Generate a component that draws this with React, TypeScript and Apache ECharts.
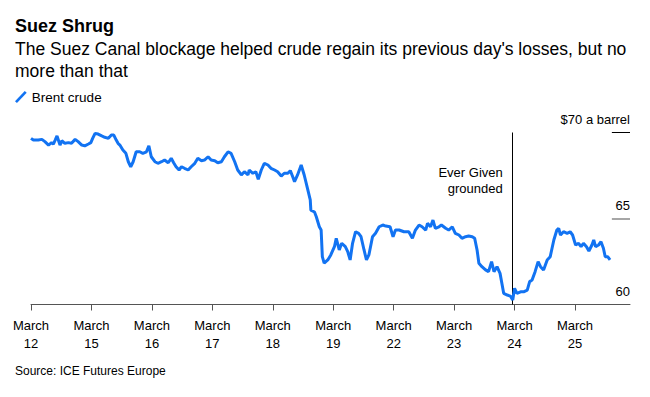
import React, { useEffect, useRef } from "react";
import * as echarts from "echarts";

const dayLabels = ["12", "15", "16", "17", "18", "19", "22", "23", "24", "25"];
const yTicks = [60, 65, 70];
const xMax = 9.91;
const tickStart = 9.61;
const eventDay = 7.97;
const eventLabel = "Ever Given\ngrounded";

// [trading-day position, Brent price $/bbl]
const brent: [number, number][] = [
  [0.0, 69.66], [0.04, 69.56], [0.12, 69.56], [0.18, 69.6], [0.23, 69.47], [0.29, 69.27],
  [0.34, 69.41], [0.37, 69.33], [0.4, 69.56], [0.43, 69.8], [0.48, 69.27], [0.51, 69.52],
  [0.56, 69.37], [0.62, 69.41], [0.67, 69.37], [0.73, 69.6], [0.78, 69.47], [0.84, 69.27],
  [0.89, 69.22], [0.95, 69.33], [0.99, 69.41], [1.02, 69.66], [1.06, 69.95], [1.11, 69.91],
  [1.17, 69.8], [1.22, 69.72], [1.28, 69.66], [1.33, 69.85], [1.37, 69.85], [1.41, 69.56],
  [1.44, 69.37], [1.47, 69.27], [1.52, 68.98], [1.57, 68.79], [1.61, 68.3], [1.65, 68.01],
  [1.69, 68.3], [1.74, 68.88], [1.8, 68.88], [1.85, 68.79], [1.91, 68.88], [1.95, 69.22],
  [1.99, 68.59], [2.05, 68.3], [2.1, 68.21], [2.16, 68.3], [2.21, 68.4], [2.27, 68.24],
  [2.32, 68.5], [2.36, 68.24], [2.4, 68.01], [2.45, 67.82], [2.49, 68.01], [2.54, 67.92],
  [2.6, 67.82], [2.65, 68.01], [2.71, 68.21], [2.76, 68.5], [2.82, 68.36], [2.87, 68.4],
  [2.93, 68.59], [2.98, 68.4], [3.04, 68.36], [3.09, 68.24], [3.15, 68.3], [3.2, 68.59],
  [3.26, 68.88], [3.31, 68.79], [3.37, 68.3], [3.42, 67.82], [3.48, 67.53], [3.53, 67.72],
  [3.59, 67.53], [3.61, 67.82], [3.67, 67.63], [3.72, 67.72], [3.76, 67.28], [3.81, 67.82],
  [3.86, 68.21], [3.92, 68.11], [3.97, 67.92], [4.03, 67.82], [4.08, 67.72], [4.14, 67.47],
  [4.19, 67.63], [4.25, 67.63], [4.29, 67.78], [4.33, 67.43], [4.36, 67.14], [4.41, 67.53],
  [4.47, 68.11], [4.52, 67.53], [4.58, 66.66], [4.62, 66.08], [4.63, 65.49], [4.69, 65.38],
  [4.72, 65.1], [4.77, 64.52], [4.8, 64.33], [4.82, 62.78], [4.85, 62.4], [4.91, 62.59],
  [4.96, 62.88], [5.02, 63.36], [5.05, 63.85], [5.1, 63.17], [5.14, 63.56], [5.2, 63.36],
  [5.24, 63.07], [5.28, 62.59], [5.32, 63.56], [5.37, 64.23], [5.42, 64.14], [5.46, 63.94],
  [5.51, 63.17], [5.55, 62.59], [5.59, 62.88], [5.65, 63.94], [5.7, 64.14], [5.76, 64.52],
  [5.82, 64.62], [5.87, 64.56], [5.94, 64.52], [5.99, 63.94], [6.03, 64.33], [6.09, 64.33],
  [6.17, 64.23], [6.25, 64.23], [6.31, 63.85], [6.36, 64.33], [6.42, 64.62], [6.47, 64.52],
  [6.53, 64.33], [6.56, 64.72], [6.61, 64.52], [6.65, 64.91], [6.69, 64.43], [6.75, 64.52],
  [6.79, 64.62], [6.86, 64.43], [6.91, 64.33], [6.97, 64.52], [7.02, 64.14], [7.08, 64.04],
  [7.13, 63.85], [7.19, 63.94], [7.24, 63.98], [7.3, 63.94], [7.34, 63.85], [7.38, 63.17],
  [7.41, 62.4], [7.46, 62.2], [7.52, 62.01], [7.57, 61.91], [7.62, 62.49], [7.66, 61.91],
  [7.71, 62.2], [7.76, 61.81], [7.79, 61.23], [7.82, 60.65], [7.88, 60.55], [7.93, 60.49],
  [7.97, 60.26], [8.0, 60.94], [8.04, 60.65], [8.1, 60.74], [8.15, 60.74], [8.21, 60.84],
  [8.25, 61.33], [8.29, 61.42], [8.34, 61.91], [8.39, 62.49], [8.43, 62.2], [8.48, 62.01],
  [8.54, 62.59], [8.59, 62.78], [8.65, 63.75], [8.7, 64.33], [8.73, 64.43], [8.76, 64.04],
  [8.81, 64.23], [8.87, 64.14], [8.92, 64.23], [8.96, 64.04], [9.01, 63.46], [9.06, 63.56],
  [9.1, 63.36], [9.14, 63.56], [9.19, 63.36], [9.23, 63.11], [9.28, 63.46], [9.31, 63.75],
  [9.34, 63.36], [9.39, 63.46], [9.43, 63.65], [9.47, 63.27], [9.5, 62.78], [9.54, 62.78],
  [9.58, 62.59],
];

const FONT = "'Liberation Sans', Arial, Helvetica, sans-serif";

export default function App() {
  const ref = useRef<HTMLDivElement>(null);
  useEffect(() => {
    if (!ref.current) return;
    const chart = echarts.init(ref.current, null, { renderer: "svg" });
    chart.setOption({
      animation: false,
      backgroundColor: "#ffffff",
      textStyle: { fontFamily: FONT },
      title: [
        {
          text: "Suez Shrug",
          left: 10,
          top: 12,
          textStyle: { fontFamily: FONT, fontSize: 18, fontWeight: "bold", color: "#000" },
        },
        {
          text: "The Suez Canal blockage helped crude regain its previous day's losses, but no\nmore than that",
          left: 10,
          top: 33,
          textStyle: { fontFamily: FONT, fontSize: 17.5, fontWeight: "normal", color: "#000", lineHeight: 22 },
        },
        {
          text: "Source: ICE Futures Europe",
          left: 10,
          top: 360,
          textStyle: { fontFamily: FONT, fontSize: 12, fontWeight: "normal", color: "#000" },
        },
      ],
      legend: {
        left: 10,
        top: 85,
        itemWidth: 12,
        itemHeight: 12,
        icon: "path://M0,10.5 L10,0 L12,1.8 L2,12.3 Z",
        textStyle: { fontFamily: FONT, fontSize: 13.5, color: "#000" },
        data: ["Brent crude"],
      },
      grid: { left: 31, right: 20, top: 132.5, bottom: 92.5, containLabel: false },
      xAxis: {
        type: "value",
        min: 0,
        max: xMax,
        interval: 1,
        axisLine: { show: true, lineStyle: { color: "#555", width: 1 } },
        axisTick: { show: true, length: 6, lineStyle: { color: "#555" } },
        splitLine: { show: false },
        axisLabel: {
          margin: 12,
          fontFamily: FONT,
          fontSize: 13,
          lineHeight: 18,
          color: "#000",
          showMaxLabel: false,
          formatter: (v: number) => {
            const i = Math.round(v);
            return i >= 0 && i < dayLabels.length ? "March\n" + dayLabels[i] : "";
          },
        },
      },
      yAxis: {
        type: "value",
        position: "right",
        min: yTicks[0],
        max: yTicks[yTicks.length - 1],
        interval: 5,
        axisLine: { show: false },
        axisTick: { show: false },
        splitLine: { show: false },
        axisLabel: {
          inside: true,
          margin: 0,
          align: "right",
          verticalAlign: "bottom",
          padding: [0, 0, 7, 0],
          fontFamily: FONT,
          fontSize: 13,
          color: "#000",
          formatter: (v: number) => (v === 70 ? "$70 a barrel" : String(v)),
        },
      },
      series: [
        {
          name: "Brent crude",
          type: "line",
          data: brent,
          showSymbol: false,
          symbol: "none",
          lineStyle: { color: "#1273f2", width: 3 },
          itemStyle: { color: "#1273f2" },
          z: 3,
          markLine: {
            silent: true,
            symbol: ["none", "none"],
            label: { show: false },
            lineStyle: { color: "#000", width: 1, type: "solid" },
            data: [
              { xAxis: eventDay },
              [
                { coord: [tickStart, yTicks[2]], lineStyle: { color: "#000", width: 1, type: "solid" } },
                { coord: [xMax, yTicks[2]] },
              ],
              [
                { coord: [tickStart, yTicks[1]], lineStyle: { color: "#888", width: 1.5, type: "solid" } },
                { coord: [xMax, yTicks[1]] },
              ],
            ],
            z: 2,
          },
          markPoint: {
            silent: true,
            symbol: "circle",
            symbolSize: 0,
            data: [{ coord: [eventDay, 67.23] }],
            label: {
              show: true,
              position: "left",
              distance: 10,
              align: "right",
              formatter: eventLabel,
              fontFamily: FONT,
              fontSize: 13,
              lineHeight: 16,
              color: "#000",
            },
          },
        },
      ],
    });
    return () => chart.dispose();
  }, []);
  return <div ref={ref} style={{ width: 650, height: 397, margin: -8 }} />;
}
